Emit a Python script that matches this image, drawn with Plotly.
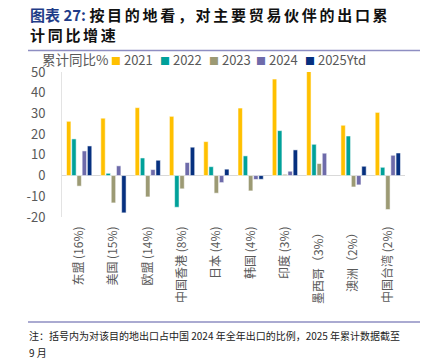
import plotly.graph_objects as go

categories = ["东盟 (16%)", "美国 (15%)", "欧盟 (14%)", "中国香港 (8%)", "日本 (4%)",
              "韩国 (4%)", "印度 (3%)", "墨西哥（3%）", "澳洲（2%）", "中国台湾 (2%)"]
series_names = ["2021", "2022", "2023", "2024", "2025Ytd"]
v2021 = [26.2, 27.7, 32.8, 28.6, 16.4, 32.6, 46.6, 50.5, 24.3, 30.5]
v2022 = [17.7, 1.1, 8.5, -15.3, 4.3, 9.5, 21.7, 15.1, 19.1, 4.0]
v2023 = [-5.1, -13.2, -10.3, -6.4, -8.5, -7.4, 0.6, 5.8, -5.5, -16.4]
v2024 = [11.9, 4.7, 2.9, 6.3, -3.4, -1.9, 2.1, 10.8, -4.5, 9.8]
v2025 = [14.3, -18.0, 7.4, 13.7, 3.1, -1.8, 12.4, None, 4.5, 10.9]
series_values = [v2021, v2022, v2023, v2024, v2025]
colors = ["#FFC000", "#00A19A", "#9C9A74", "#6E6BAA", "#06307F"]

y_ticks = [-20, -10, 0, 10, 20, 30, 40, 50]

FONT = "Noto Sans CJK SC"
GRAY = "#595959"

W, H = 431, 361
L, R, T, B = 62, 26, 72, 144
pw, ph = W - L - R, H - T - B

def px_x(x):
    return (x - L) / pw

def px_y(y):
    return (H - B - y) / ph

legend_px = [113, 162, 211, 258, 307]   # left edge of each legend swatch (layout)
LEG_OFF = 27
LEG_Y = 59.5

fig = go.Figure()
legend_layouts = {}
for i, (name, vals, col) in enumerate(zip(series_names, series_values, colors)):
    lg = "legend" if i == 0 else f"legend{i + 1}"
    fig.add_trace(go.Bar(
        x=categories, y=vals, name=name, legendgroup=name, showlegend=False,
        marker=dict(color=col, line=dict(color="rgba(255,255,255,0.9)", width=0.6)),
    ))
    fig.add_trace(go.Scatter(
        x=[None], y=[None], mode="markers", legendgroup=name, legend=lg,
        name=f"<span style='font-size:10px;color:{col}'>■</span> {name}",
        marker=dict(size=1, color="rgba(0,0,0,0)", line=dict(width=0)),
        hoverinfo="skip", showlegend=True,
    ))
    legend_layouts[lg] = dict(
        orientation="h", x=px_x(legend_px[i] - LEG_OFF), xanchor="left",
        y=px_y(LEG_Y), yanchor="middle",
        font=dict(size=13, color=GRAY, family=FONT),
        itemwidth=30, indentation=-15, bgcolor="rgba(0,0,0,0)", borderwidth=0,
    )

SP = "<span style='letter-spacing:2.7px'>"
title_txt = ("<b><span style='color:#1F3C88'>图表 27:</span> " + SP +
             "按目的地看，对主要贸易伙伴的出口累</span><br>" + SP + "计同比增速</span></b>")

fig.update_layout(
    width=W, height=H,
    margin=dict(l=L, r=R, t=T, b=B, pad=0, autoexpand=False),
    paper_bgcolor="white", plot_bgcolor="white",
    font=dict(family=FONT, color=GRAY, size=12),
    barmode="group", bargap=0.24, bargroupgap=0.15,
    showlegend=True,
    xaxis=dict(
        tickangle=-90, tickfont=dict(size=12, color=GRAY, family=FONT),
        showline=False, showgrid=False, ticks="", ticklabelstandoff=6, automargin=False,
    ),
    yaxis=dict(
        range=[-20, 50], tickvals=y_ticks, ticktext=[str(v) for v in y_ticks],
        tickfont=dict(size=13, color=GRAY, family=FONT),
        showgrid=False, zeroline=True, zerolinecolor="#D9D9D9", zerolinewidth=1,
        showline=True, linecolor="#E3E3E3", linewidth=1, ticks="", ticklabelstandoff=13,
        automargin=False,
    ),
    shapes=[
        dict(type="line", xref="paper", yref="paper", x0=px_x(28), x1=px_x(420),
             y0=px_y(50.5), y1=px_y(50.5), line=dict(color="#8E8EC2", width=1.5)),
        dict(type="line", xref="paper", yref="paper", x0=px_x(28), x1=px_x(420),
             y0=px_y(322), y1=px_y(322), line=dict(color="#8E8EC2", width=1.5)),
    ],
    annotations=[
        dict(text=title_txt,
             xref="paper", yref="paper", x=px_x(28), y=px_y(2), xanchor="left", yanchor="top",
             align="left", showarrow=False, font=dict(size=15, color="#111111", family=FONT)),
        dict(text="累计同比%",
             xref="paper", yref="paper", x=px_x(40), y=px_y(LEG_Y), xanchor="left", yanchor="middle",
             showarrow=False, font=dict(size=13.5, color=GRAY, family=FONT)),
        dict(text="注：括号内为对该目的地出口占中国 2024 年全年出口的比例，2025 年累计数据截至",
             xref="paper", yref="paper", x=px_x(27), y=px_y(335), xanchor="left", yanchor="middle",
             align="left", showarrow=False, font=dict(size=10, color="#222222", family=FONT)),
        dict(text="9 月",
             xref="paper", yref="paper", x=px_x(27), y=px_y(352), xanchor="left", yanchor="middle",
             align="left", showarrow=False, font=dict(size=10, color="#222222", family=FONT)),
    ],
    **legend_layouts,
)

fig.write_html("out.html", post_script="document.body.style.margin='0';",
               config={"displayModeBar": False})
